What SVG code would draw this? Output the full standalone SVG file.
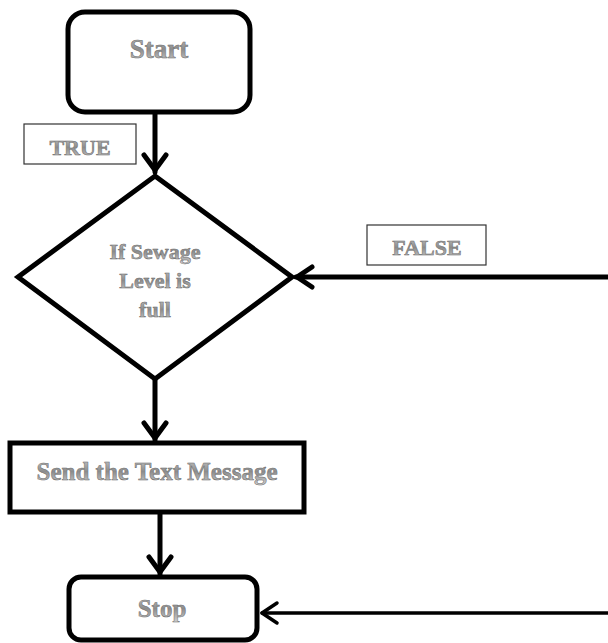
<svg xmlns="http://www.w3.org/2000/svg" width="608" height="643" viewBox="0 0 608 643">
<defs>
<linearGradient id="tg" x1="0" y1="0" x2="0" y2="1">
<stop offset="0" stop-color="#c8c8c8"/>
<stop offset="0.5" stop-color="#8c8c8c"/>
<stop offset="1" stop-color="#cfcfcf"/>
</linearGradient>
</defs>
<style>
.shape{fill:#fff;stroke:#000;stroke-width:5}
.lbl{fill:#fff;stroke:#333;stroke-width:1.2}
.t{font-family:"Liberation Serif","Times New Roman",serif;font-weight:bold;fill:url(#tg);stroke:#6a6a6a;stroke-width:0.5;text-anchor:middle}
.c{fill:none;stroke:#000;stroke-width:5;stroke-linecap:round;stroke-linejoin:round}
.thin{stroke-width:3.5}
</style>
<rect width="608" height="643" fill="#fff"/>
<g id="connectors">
<line class="c" x1="155" y1="112" x2="155" y2="172"/>
<polyline class="c" points="144,155 155,170 166,155"/>
<line class="c" x1="155" y1="380" x2="155" y2="440"/>
<polyline class="c" points="144,423 155,438 166,423"/>
<line class="c" x1="160" y1="512" x2="160" y2="574"/>
<polyline class="c" points="149,557 160,572 171,557"/>
<line class="c" x1="608" y1="277" x2="296" y2="277"/>
<polyline class="c" points="312,267 297,277 312,287"/>
<line class="c thin" x1="608" y1="613" x2="262" y2="613"/>
<polyline class="c thin" points="277,603 262,613 277,623"/>
</g>
<g id="start">
<rect class="shape" x="68" y="12" width="182" height="100" rx="17"/>
<text class="t" x="159" y="58" font-size="27">Start</text>
</g>
<g id="true-label">
<rect class="lbl" x="24" y="124" width="112" height="40"/>
<text class="t" x="80" y="155" font-size="22">TRUE</text>
</g>
<g id="decision">
<polygon class="shape" points="155,176 292,277 155,379 18,277"/>
<text class="t" x="155" y="259" font-size="22">If Sewage</text>
<text class="t" x="155" y="288" font-size="22">Level is</text>
<text class="t" x="155" y="317" font-size="22">full</text>
</g>
<g id="false-label">
<rect class="lbl" x="367" y="225" width="119" height="40"/>
<text class="t" x="427" y="255" font-size="22">FALSE</text>
</g>
<g id="send">
<rect class="shape" x="10" y="443" width="294" height="69"/>
<text class="t" x="157" y="480" font-size="25">Send the Text Message</text>
</g>
<g id="stop">
<rect class="shape" x="69" y="577" width="188" height="63" rx="12"/>
<text class="t" x="162" y="617" font-size="25">Stop</text>
</g>
</svg>
